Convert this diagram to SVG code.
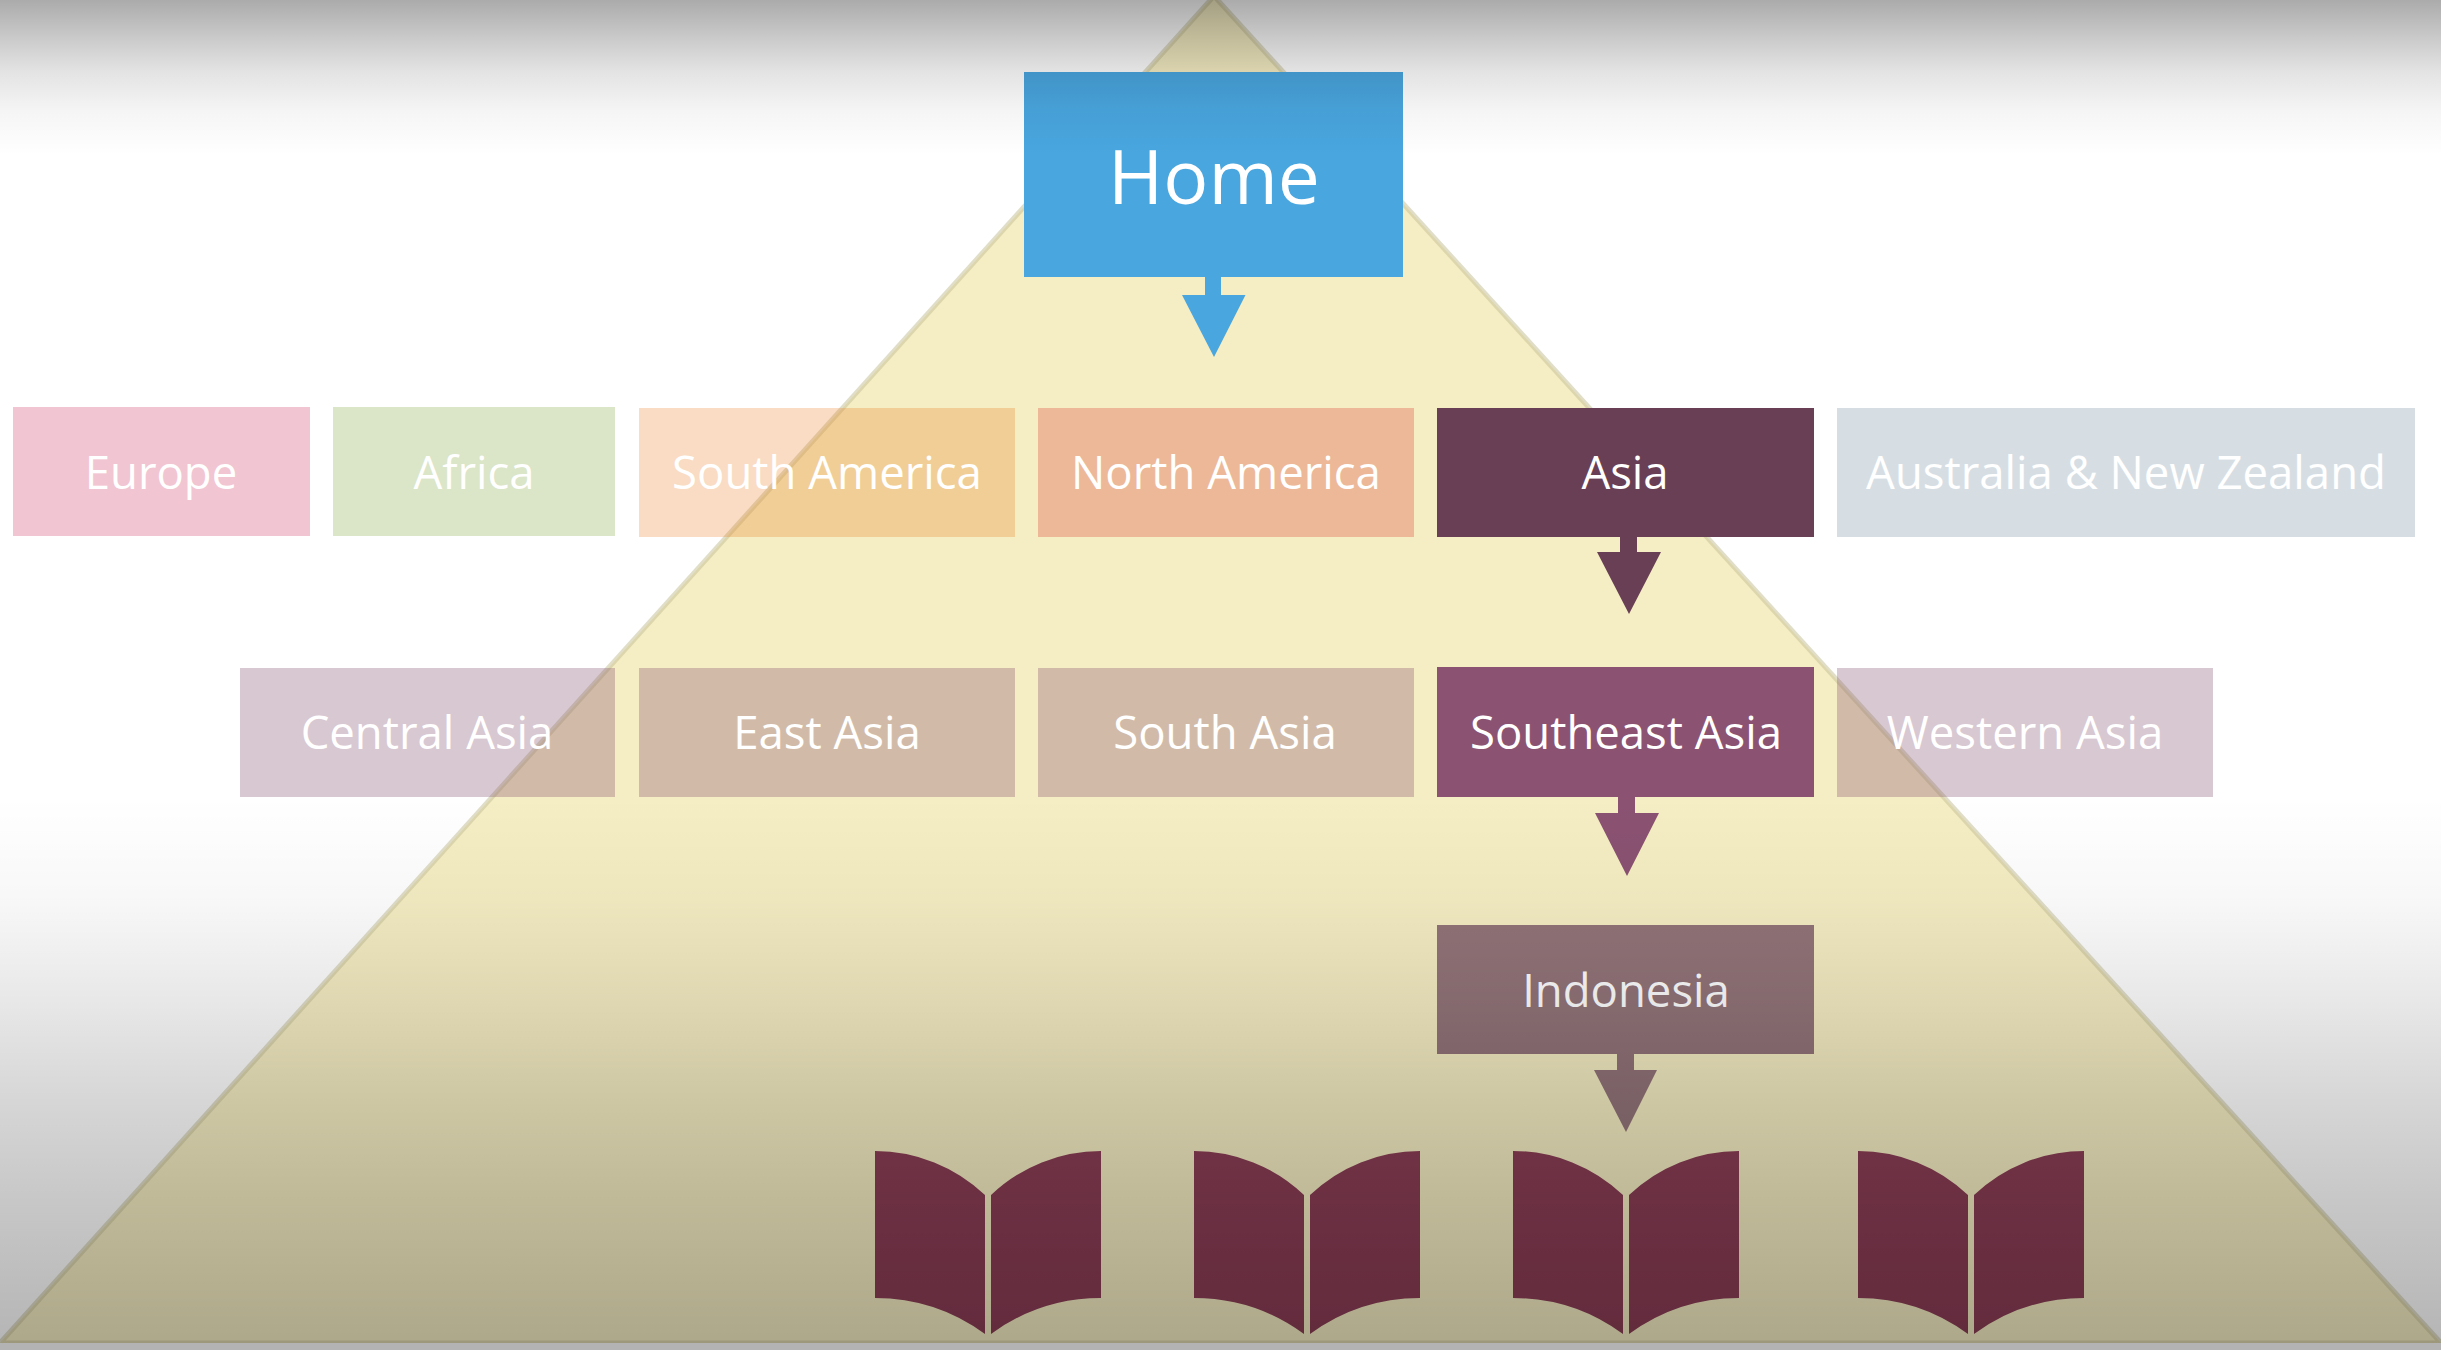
<svg xmlns="http://www.w3.org/2000/svg" width="2441" height="1350" viewBox="0 0 2441 1350">
<style>
text{font-family:"Open Sans","Noto Sans","Liberation Sans",sans-serif;fill:#fff;text-anchor:middle;font-size:45.500px}
.home{font-size:75px}
.book{fill:#8a3d55}
</style>
<defs>
<linearGradient id="shade" gradientUnits="userSpaceOnUse" x1="0" y1="0" x2="0" y2="1350">
<stop offset="0" stop-color="#000" stop-opacity=".33"/>
<stop offset=".03" stop-color="#000" stop-opacity=".2"/>
<stop offset=".053" stop-color="#000" stop-opacity=".11"/>
<stop offset=".082" stop-color="#000" stop-opacity=".04"/>
<stop offset=".115" stop-color="#000" stop-opacity="0"/>
<stop offset=".59" stop-color="#000" stop-opacity="0"/>
<stop offset=".667" stop-color="#000" stop-opacity=".03"/>
<stop offset=".74" stop-color="#000" stop-opacity=".09"/>
<stop offset=".815" stop-color="#000" stop-opacity=".16"/>
<stop offset=".89" stop-color="#000" stop-opacity=".22"/>
<stop offset=".995" stop-color="#000" stop-opacity=".29"/>
<stop offset="1" stop-color="#000" stop-opacity=".29"/>
</linearGradient>
<path id="b" d="M0 0A159.500 159.500 0 0 1 110 44L110 183A186 186 0 0 0 0 147ZM226 0A159.500 159.500 0 0 0 116 44L116 183A186 186 0 0 1 226 147Z"/>
</defs>
<rect width="2441" height="1350" fill="#fff"/>
<polygon id="pyramid" points="1214,-4 2441,1343 0,1343" fill="#f5edc3" stroke="#c9c39a" stroke-opacity=".55" stroke-width="5"/>
<g id="connectors">
<path fill="#49a6df" d="M1205 277H1221V295H1245.500L1214 357L1182 295H1205Z"/>
<path fill="#693f55" d="M1620 537H1637V552H1661L1629 614L1597 552H1620Z"/>
<path fill="#8b5272" d="M1618 797H1635V813H1659L1627 876L1595 813H1618Z"/>
<path fill="#927479" d="M1617 1054H1634V1070H1657L1626 1132L1594 1070H1617Z"/>
</g>
<g id="home"><rect x="1024" y="72" width="379" height="205" fill="#49a6df"/><text class="home" x="1214" y="204">Home</text></g>
<g id="europe"><rect x="13" y="407" width="297" height="129" fill="#f2c5d2"/><text x="161" y="489">Europe</text></g>
<g id="africa"><rect x="333" y="407" width="282" height="129" fill="#dbe5c8"/><text x="474" y="489">Africa</text></g>
<g id="south-america"><rect x="639" y="408" width="376" height="129" fill="#e87410" fill-opacity=".25"/><text x="827" y="489">South America</text></g>
<g id="north-america"><rect x="1038" y="408" width="376" height="129" fill="#ecb898"/><text x="1226" y="489">North America</text></g>
<g id="asia"><rect x="1437" y="408" width="377" height="129" fill="#693f55"/><text x="1625" y="489">Asia</text></g>
<g id="australia"><rect x="1837" y="408" width="578" height="129" fill="#d6dee4"/><text x="2126" y="489">Australia &amp; New Zealand</text></g>
<g id="central-asia"><rect x="240" y="668" width="375" height="129" fill="#7d4869" fill-opacity=".3"/><text x="427" y="749">Central Asia</text></g>
<g id="east-asia"><rect x="639" y="668" width="376" height="129" fill="#7d4869" fill-opacity=".3"/><text x="827" y="749">East Asia</text></g>
<g id="south-asia"><rect x="1038" y="668" width="376" height="129" fill="#7d4869" fill-opacity=".3"/><text x="1225" y="749">South Asia</text></g>
<g id="southeast-asia"><rect x="1437" y="667" width="377" height="130" fill="#8b5272"/><text x="1626" y="749">Southeast Asia</text></g>
<g id="western-asia"><rect x="1837" y="668" width="376" height="129" fill="#7d4869" fill-opacity=".3"/><text x="2025" y="749">Western Asia</text></g>
<g id="indonesia"><rect x="1437" y="925" width="377" height="129" fill="#927479"/><text x="1626" y="1007">Indonesia</text></g>
<g id="book-1"><use href="#b" class="book" x="875" y="1151"/></g>
<g id="book-2"><use href="#b" class="book" x="1194" y="1151"/></g>
<g id="book-3"><use href="#b" class="book" x="1513" y="1151"/></g>
<g id="book-4"><use href="#b" class="book" x="1858" y="1151"/></g>
<rect id="shade-overlay" width="2441" height="1350" fill="url(#shade)"/>
<rect id="floor" y="1343" width="2441" height="7" fill="#b3b3b3"/>
</svg>
